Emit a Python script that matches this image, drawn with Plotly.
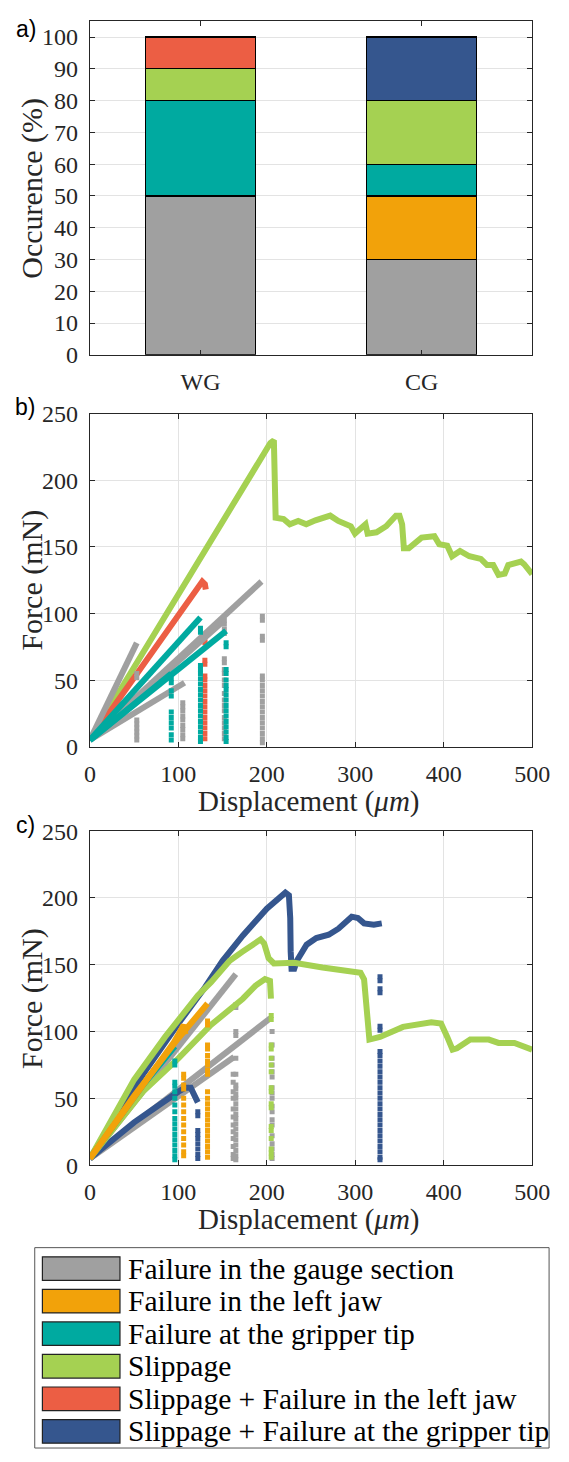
import plotly.graph_objects as go

# ---------------- data ----------------
MODES = ["Failure in the gauge section", "Failure in the left jaw", "Failure at the gripper tip",
         "Slippage", "Slippage + Failure in the left jaw", "Slippage + Failure at the gripper tip"]
COLORS = ["#A0A0A0", "#F2A20A", "#00AAA0", "#A5D152", "#EC5E44", "#35568E"]
GROUPS = ["WG", "CG"]
OCC_WG = [50, 0, 30, 10, 10, 0]
OCC_CG = [30, 20, 10, 20, 0, 20]

# panel b (WG) -- loading curves and post-failure points
B_GAUGE_X = [[0, 53], [0, 107], [0, 152], [0, 100, 194]]
B_GAUGE_Y = [[5, 78], [5, 48], [5, 95], [5, 66, 124]]
B_GAUGE_DX = [53, 105, 152, 195]
B_GAUGE_DY = [[55, 52, 20, 17, 14, 11, 8, 5],
              [33, 30, 27, 23, 20, 16, 13, 9, 6],
              [95, 92, 88, 85, 66, 63, 58, 55, 50, 46, 40, 35, 31, 27, 22, 18, 14, 10, 6],
              [98, 95, 83, 80, 53, 50, 46, 42, 38, 34, 30, 26, 22, 18, 14, 10, 6, 3]]
B_RED_X = [[0, 60, 120, 124, 127, 130, 131]]
B_RED_Y = [[5, 62, 118, 122, 124, 122, 118]]
B_RED_DX = [130]
B_RED_DY = [[80, 78, 65, 62, 53, 50, 46, 42, 38, 34, 30, 26, 22, 18, 14, 10, 6]]
B_TEAL_X = [[0, 125], [0, 154], [0, 92]]
B_TEAL_Y = [[5, 97], [5, 87], [5, 55]]
B_TEAL_DX = [125, 154, 92]
B_TEAL_DY = [[89, 86, 61, 58, 55, 51, 47, 43, 39, 35, 31, 27, 23, 19, 15, 11, 7, 4],
             [78, 75, 58, 55, 50, 46, 43, 39, 35, 31, 27, 23, 19, 15, 11, 7, 4],
             [51, 48, 42, 38, 26, 22, 18, 14, 9, 5]]
B_GREEN_X = [[0, 204, 208, 209, 210, 219, 226, 235.5, 244.6, 255, 271.7, 280.8, 288, 295, 299.7, 306,
              311.6, 314, 324, 335, 346, 350, 353, 355, 360.5, 375, 389.5, 395, 404, 409.5, 418.5, 429,
              442, 449, 456, 462, 469, 473, 487.4, 491, 500]]
B_GREEN_Y = [[5, 228, 230, 200, 172, 171, 167, 169.5, 167, 170, 173.5, 169.5, 167, 165.5, 160, 163,
              167, 160, 161, 165.5, 173.5, 173.5, 167, 149, 149, 157, 158, 152, 151, 143, 147, 143,
              141, 136.4, 136.4, 129, 130, 136.4, 139, 137, 129.5]]

# panel c (CG)
C_GAUGE_X = [[0, 165], [0, 204], [0, 163]]
C_GAUGE_Y = [[5, 143], [5, 110], [5, 81]]
C_GAUGE_DX = [165, 206, 162]
C_GAUGE_DY = [[120, 118, 100, 97, 80, 68, 60, 57, 53, 50, 46, 42, 38, 35, 31, 27, 23, 19, 15, 11, 7, 4],
              [100, 90, 80, 75, 70, 66, 58, 54, 50, 44, 40, 34, 30, 22, 16, 12, 8, 5],
              [68, 62, 55, 50, 42, 36, 30, 25, 20, 14, 8, 5]]
C_BLUE_X = [[0, 60, 100, 130, 150, 173, 200, 215, 221, 225, 226.5, 227, 228, 231, 234, 245, 256, 270,
             281, 296, 303, 310, 321, 330],
            [0, 50, 100, 108, 114, 118, 122]]
C_BLUE_Y = [[5, 68, 106, 133, 153, 172, 192, 201, 204, 202, 185, 160, 147, 147, 153, 165, 170, 172.5,
             177, 186, 185, 181, 180, 181],
            [5, 32, 55, 58, 58, 52, 47]]
C_BLUE_DX = [328, 122]
C_BLUE_DY = [[141, 138, 132, 129, 104, 101, 85, 82, 78, 74, 70, 66, 62, 58, 54, 50, 46, 42, 38, 34,
              30, 26, 22, 18, 14, 10, 6, 4],
             [40, 37, 26, 23, 20, 16, 12, 8, 5]]
C_GREEN_X = [[0, 25, 50, 85, 100, 122, 137, 158, 173, 187, 193, 197, 202, 208, 220, 231, 263, 288, 306,
              310, 312, 314, 316, 328, 354, 386, 397, 404, 410, 415, 430, 451, 462, 480, 500],
             [0, 30, 60, 100.6, 136.8, 172.9, 187.4, 198, 203.6, 204.7]]
C_GREEN_Y = [[5, 35, 64, 96, 108, 127, 137, 153, 160, 166, 169, 166, 155, 151, 151.5, 151.5, 148, 145.5,
              144, 139, 120, 100, 94, 96, 103.5, 107, 106, 96, 86.5, 87.5, 94, 94, 91.5, 91.5, 86.5],
             [5, 30, 55, 80.3, 104.9, 124.6, 134.4, 139.3, 138, 124.6]]
C_GREEN_DX = [205]
C_GREEN_DY = [[112, 109, 90, 87, 80, 75, 70, 58, 55, 46, 43, 29, 26, 20, 12, 9, 6]]
C_TEAL_X = [[0, 30, 60, 80, 96]]
C_TEAL_Y = [[5, 33, 60, 76, 89]]
C_TEAL_DX = [96]
C_TEAL_DY = [[78, 75, 62, 59, 55, 50, 45, 40, 35, 31, 27, 23, 19, 15, 11, 7, 4]]
C_ORANGE_X = [[0, 50, 100, 133], [0, 50, 95, 102, 106, 108]]
C_ORANGE_Y = [[5, 52, 95, 121], [5, 50, 92, 100, 105, 98]]
C_ORANGE_DX = [133, 106]
C_ORANGE_DY = [[108, 105, 90, 87, 82, 78, 75, 71, 68, 55, 50, 46, 42, 38, 34, 30, 26, 22, 18, 14, 10, 6],
               [68, 65, 60, 57, 50, 45, 40, 35, 30, 25, 20, 15, 10, 7]]

# ---------------- figure ----------------
W, H = 569, 1462
SERIF = "Liberation Serif"
SANS = "Liberation Sans"
AX = "#262626"
GRID = "#E3E3E3"

fig = go.Figure()


def px(x):
    return x / W


def py(y):
    return 1 - y / H


# panel a
occ = list(zip(OCC_WG, OCC_CG))
for i, name in enumerate(MODES):
    fig.add_trace(go.Bar(x=GROUPS, y=list(occ[i]), name=name,
                         marker=dict(color=COLORS[i], line=dict(color="black", width=1.2)),
                         width=0.5, xaxis="x", yaxis="y", showlegend=False))


def add_curves(xs, ys, color, xa, ya):
    for x, y in zip(xs, ys):
        fig.add_trace(go.Scatter(x=x, y=y, mode="lines", line=dict(color=color, width=6),
                                 xaxis=xa, yaxis=ya, showlegend=False))


def add_drops(dx, dy, color, xa, ya):
    for x, y in zip(dx, dy):
        fig.add_trace(go.Scatter(x=[x] * len(y), y=y, mode="markers",
                                 marker=dict(color=color, size=5, symbol="square"),
                                 xaxis=xa, yaxis=ya, showlegend=False))


# panel b
add_curves(B_GREEN_X, B_GREEN_Y, COLORS[3], "x2", "y2")
add_curves(B_RED_X, B_RED_Y, COLORS[4], "x2", "y2")
add_drops(B_RED_DX, B_RED_DY, COLORS[4], "x2", "y2")
add_curves(B_GAUGE_X, B_GAUGE_Y, COLORS[0], "x2", "y2")
add_drops(B_GAUGE_DX, B_GAUGE_DY, COLORS[0], "x2", "y2")
add_curves(B_TEAL_X, B_TEAL_Y, COLORS[2], "x2", "y2")
add_drops(B_TEAL_DX, B_TEAL_DY, COLORS[2], "x2", "y2")

# panel c
add_curves(C_GAUGE_X, C_GAUGE_Y, COLORS[0], "x3", "y3")
add_drops(C_GAUGE_DX, C_GAUGE_DY, COLORS[0], "x3", "y3")
add_curves(C_BLUE_X, C_BLUE_Y, COLORS[5], "x3", "y3")
add_drops(C_BLUE_DX, C_BLUE_DY, COLORS[5], "x3", "y3")
add_curves(C_GREEN_X, C_GREEN_Y, COLORS[3], "x3", "y3")
add_drops(C_GREEN_DX, C_GREEN_DY, COLORS[3], "x3", "y3")
add_curves(C_TEAL_X, C_TEAL_Y, COLORS[2], "x3", "y3")
add_drops(C_TEAL_DX, C_TEAL_DY, COLORS[2], "x3", "y3")
add_curves(C_ORANGE_X, C_ORANGE_Y, COLORS[1], "x3", "y3")
add_drops(C_ORANGE_DX, C_ORANGE_DY, COLORS[1], "x3", "y3")

common = dict(showline=True, linecolor=AX, linewidth=1, mirror="allticks", ticks="inside", ticklen=5,
              tickcolor=AX, gridcolor=GRID, gridwidth=1, zeroline=False, ticklabeloverflow="allow",
              tickfont=dict(family=SERIF, size=24, color=AX))

XL, XR = 87.6, 549.3
fig.update_layout(
    width=W, height=H, margin=dict(l=0, r=0, t=0, b=0),
    paper_bgcolor="white", plot_bgcolor="white", barmode="stack", showlegend=False,
    xaxis=dict(domain=[px(XL), px(XR)], anchor="y", type="category", range=[-0.5, 1.5], showgrid=False,
               ticklabelstandoff=5, **common),
    yaxis=dict(domain=[py(348), py(8.3)], anchor="x", range=[0, 105], tickvals=list(range(0, 101, 10)),
               showgrid=True, ticklabelstandoff=6, **common),
    xaxis2=dict(domain=[px(XL), px(XR)], anchor="y2", range=[0, 500], tickvals=[0, 100, 200, 300, 400, 500],
                showgrid=True, ticklabelstandoff=5, **common),
    yaxis2=dict(domain=[py(747), py(408)], anchor="x2", range=[0, 250], tickvals=[0, 50, 100, 150, 200, 250],
                showgrid=True, ticklabelstandoff=6, **common),
    xaxis3=dict(domain=[px(XL), px(XR)], anchor="y3", range=[0, 500], tickvals=[0, 100, 200, 300, 400, 500],
                showgrid=True, ticklabelstandoff=5, **common),
    yaxis3=dict(domain=[py(1173), py(833)], anchor="x3", range=[0, 250], tickvals=[0, 50, 100, 150, 200, 250],
                showgrid=True, ticklabelstandoff=6, **common),
)

ann = []
for lab, (x, y) in zip(["a)", "b)", "c)"], [(21, 16), (20, 401), (20, 827)]):
    ann.append(dict(text=lab, x=px(x), y=py(y), xref="paper", yref="paper", showarrow=False,
                    font=dict(family=SANS, size=23, color="black"), xanchor="center", yanchor="middle"))
for txt, (x, y) in zip(["Occurence (%)", "Force (mN)", "Force (mN)"], [(27, 178), (27, 577), (27, 1003)]):
    ann.append(dict(text=txt, x=px(x), y=py(y), xref="paper", yref="paper", showarrow=False, textangle=-90,
                    font=dict(family=SERIF, size=30, color=AX), xanchor="center", yanchor="middle"))
for y in [803, 1228]:
    ann.append(dict(text="Displacement (<i>μm</i>)", x=px(316), y=py(y), xref="paper", yref="paper",
                    showarrow=False, font=dict(family=SERIF, size=29, color=AX), xanchor="center",
                    yanchor="middle"))

shapes = [dict(type="rect", xref="paper", yref="paper", x0=px(30), x1=px(567), y0=py(1461), y1=py(1257),
               line=dict(color="#555555", width=1), fillcolor="white", layer="below")]
for i, (name, col) in enumerate(zip(MODES, COLORS)):
    cy = 1278.3 + 33.15 * i
    shapes.append(dict(type="rect", xref="paper", yref="paper", x0=px(38), x1=px(119),
                       y0=py(cy + 12), y1=py(cy - 12), line=dict(color="#222222", width=1.2), fillcolor=col))
    ann.append(dict(text=name, x=px(125), y=py(cy), xref="paper", yref="paper", showarrow=False,
                    font=dict(family=SERIF, size=29.5, color="black"), xanchor="left", yanchor="middle"))

fig.update_layout(annotations=ann, shapes=shapes)
fig.write_html("out.html", config={"displayModeBar": False},
               post_script="document.body.style.margin='0px';")
